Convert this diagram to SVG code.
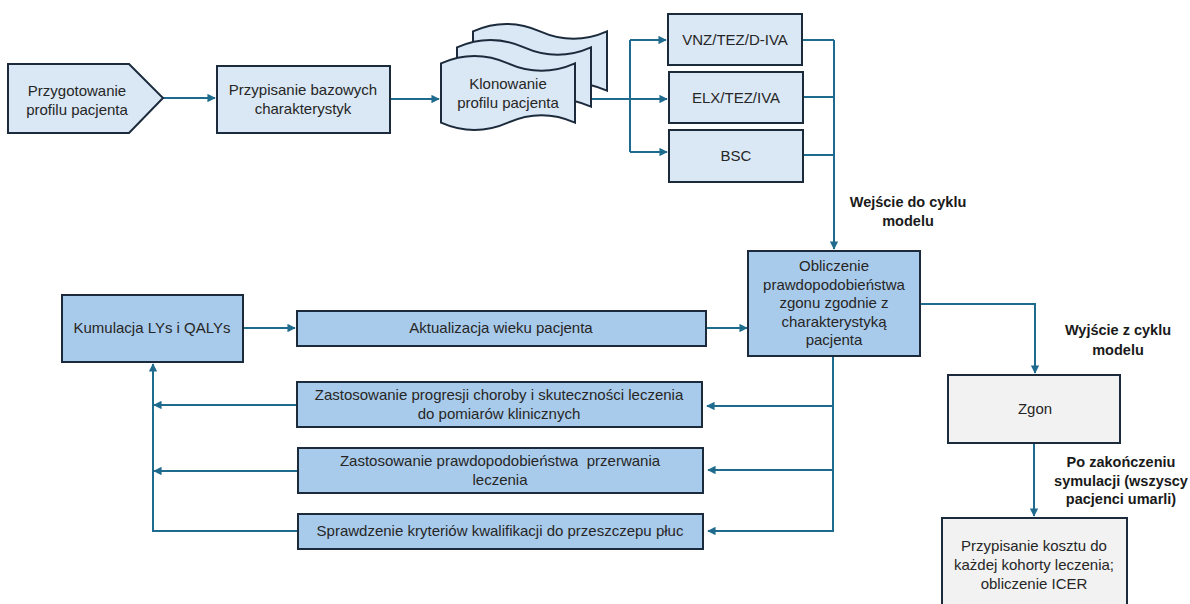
<svg xmlns="http://www.w3.org/2000/svg" width="1190" height="604" viewBox="0 0 1190 604">
<style>
  .n { stroke:#1c2b3c; stroke-width:2; }
  .light { fill:#dae8f5; }
  .mid { fill:#a9cbeb; }
  .gray { fill:#f2f2f2; }
  .t { font-family:"Liberation Sans", Arial, sans-serif; font-size:15px; fill:#262626; text-anchor:middle; }
  .b { font-family:"Liberation Sans", Arial, sans-serif; font-size:14.5px; font-weight:bold; fill:#1a1a1a; text-anchor:middle; }
  .c { fill:none; stroke:#1f6b8e; stroke-width:2; }
</style>
<defs>
  <marker id="ah" viewBox="0 0 10 10" refX="9" refY="5" markerWidth="4.2" markerHeight="4.2" orient="auto" markerUnits="strokeWidth">
    <path d="M0,0 L10,5 L0,10 z" fill="#1f6b8e"/>
  </marker>
</defs>
<rect width="1190" height="604" fill="#ffffff"/>

<g id="connectors">
  <path class="c" d="M163,98 H215" marker-end="url(#ah)"/>
  <path class="c" d="M390,99 H439" marker-end="url(#ah)"/>
  <path class="c" d="M590,99 H630"/>
  <path class="c" d="M630,40 V152"/>
  <path class="c" d="M630,40 H666" marker-end="url(#ah)"/>
  <path class="c" d="M630,99 H667" marker-end="url(#ah)"/>
  <path class="c" d="M630,152 H667" marker-end="url(#ah)"/>
  <path class="c" d="M803,40 H834"/>
  <path class="c" d="M804,97 H834"/>
  <path class="c" d="M804,155 H834"/>
  <path class="c" d="M834,40 V249" marker-end="url(#ah)"/>
  <path class="c" d="M920,304 H1035 V373" marker-end="url(#ah)"/>
  <path class="c" d="M1034,443 V516" marker-end="url(#ah)"/>
  <path class="c" d="M243,328 H295" marker-end="url(#ah)"/>
  <path class="c" d="M706,328 H747" marker-end="url(#ah)"/>
  <path class="c" d="M833,357 V531 H708" marker-end="url(#ah)"/>
  <path class="c" d="M833,406 H707" marker-end="url(#ah)"/>
  <path class="c" d="M833,470 H708" marker-end="url(#ah)"/>
  <path class="c" d="M297,405 H154" marker-end="url(#ah)"/>
  <path class="c" d="M298,471 H154" marker-end="url(#ah)"/>
  <path class="c" d="M298,531 H153 V364" marker-end="url(#ah)"/>
</g>

<g id="node-przygotowanie">
  <path class="n light" d="M8,64 H129 L163,98 L129,133 H8 Z"/>
  <text class="t" x="77" y="96">Przygotowanie</text>
  <text class="t" x="77" y="115">profilu pacjenta</text>
</g>

<g id="node-przypisanie">
  <rect class="n light" x="217" y="66" width="173" height="67"/>
  <text class="t" x="303" y="95">Przypisanie bazowych</text>
  <text class="t" x="303" y="114">charakterystyk</text>
</g>

<g id="node-klonowanie">
  <path class="n light" d="M473,31.4 Q506.5,16.6 540,31.4 T607,31.4 L607,90.6 Q573.5,75.8 540,90.6 T473,90.6 Z"/>
  <path class="n light" d="M457,47.4 Q490.5,32.6 524,47.4 T591,47.4 L591,106.6 Q557.5,91.8 524,106.6 T457,106.6 Z"/>
  <path class="n light" d="M441,63.4 Q474.5,48.6 508,63.4 T575,63.4 L575,122.6 Q541.5,107.8 508,122.6 T441,122.6 Z"/>
  <text class="t" x="508" y="89">Klonowanie</text>
  <text class="t" x="508" y="108">profilu pacjenta</text>
</g>

<g id="node-vnz">
  <rect class="n light" x="668" y="14" width="134" height="51"/>
  <text class="t" x="735" y="45">VNZ/TEZ/D-IVA</text>
</g>
<g id="node-elx">
  <rect class="n light" x="669" y="72" width="134" height="51"/>
  <text class="t" x="736" y="103">ELX/TEZ/IVA</text>
</g>
<g id="node-bsc">
  <rect class="n light" x="669" y="130" width="134" height="52"/>
  <text class="t" x="736" y="161">BSC</text>
</g>

<g id="label-wejscie">
  <text class="b" x="908" y="207">Wejście do cyklu</text>
  <text class="b" x="908" y="226">modelu</text>
</g>

<g id="node-obliczenie">
  <rect class="n mid" x="748" y="251" width="172" height="105"/>
  <text class="t" x="834" y="271">Obliczenie</text>
  <text class="t" x="834" y="290">prawdopodobieństwa</text>
  <text class="t" x="834" y="308">zgonu zgodnie z</text>
  <text class="t" x="834" y="327">charakterystyką</text>
  <text class="t" x="834" y="345">pacjenta</text>
</g>

<g id="label-wyjscie">
  <text class="b" x="1118" y="335">Wyjście z cyklu</text>
  <text class="b" x="1118" y="355">modelu</text>
</g>

<g id="node-zgon">
  <rect class="n gray" x="948" y="375" width="172" height="68"/>
  <text class="t" x="1035" y="414">Zgon</text>
</g>

<g id="label-po">
  <text class="b" x="1121" y="467">Po zakończeniu</text>
  <text class="b" x="1121" y="486">symulacji (wszyscy</text>
  <text class="b" x="1121" y="504">pacjenci umarli)</text>
</g>

<g id="node-przypisanie-kosztu">
  <rect class="n gray" x="942" y="518" width="185" height="100"/>
  <text class="t" x="1034" y="551">Przypisanie kosztu do</text>
  <text class="t" x="1034" y="570">każdej kohorty leczenia;</text>
  <text class="t" x="1034" y="589">obliczenie ICER</text>
</g>

<g id="node-kumulacja">
  <rect class="n mid" x="62" y="295" width="181" height="67"/>
  <text class="t" x="152" y="333">Kumulacja LYs i QALYs</text>
</g>

<g id="node-aktualizacja">
  <rect class="n mid" x="297" y="311" width="409" height="35"/>
  <text class="t" x="501" y="333">Aktualizacja wieku pacjenta</text>
</g>

<g id="node-progresja">
  <rect class="n mid" x="297" y="382" width="405" height="45"/>
  <text class="t" x="499" y="400">Zastosowanie progresji choroby i skuteczności leczenia</text>
  <text class="t" x="499" y="419">do pomiarów klinicznych</text>
</g>

<g id="node-przerwanie">
  <rect class="n mid" x="298" y="448" width="405" height="45"/>
  <text class="t" x="500" y="466" xml:space="preserve">Zastosowanie prawdopodobieństwa  przerwania</text>
  <text class="t" x="500" y="485">leczenia</text>
</g>

<g id="node-sprawdzenie">
  <rect class="n mid" x="298" y="514" width="405" height="35"/>
  <text class="t" x="500" y="536">Sprawdzenie kryteriów kwalifikacji do przeszczepu płuc</text>
</g>
</svg>
